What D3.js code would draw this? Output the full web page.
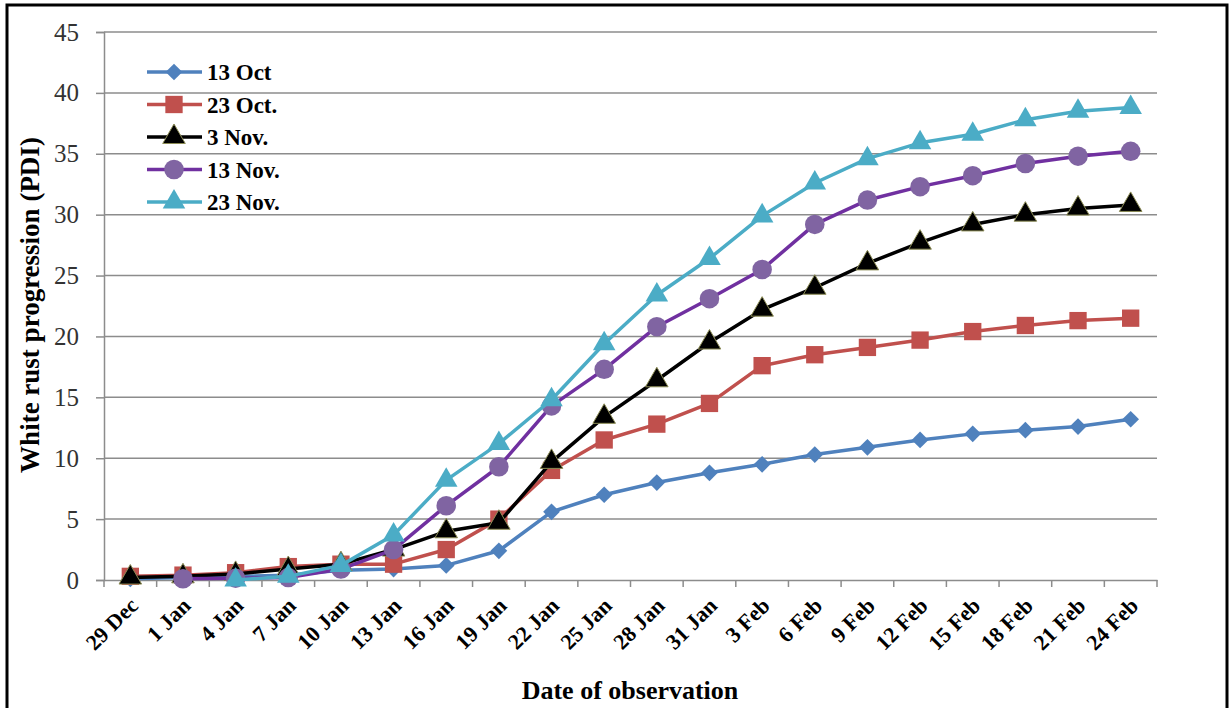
<!DOCTYPE html>
<html>
<head>
<meta charset="utf-8">
<script src="https://cdn.jsdelivr.net/npm/d3@7"></script>
<style>
  body { margin: 0; background: #fff; }
  text { font-family: "Liberation Serif", "DejaVu Serif", serif; }
</style>
</head>
<body>
<script>
// categories and series
const dates = ["29 Dec", "1 Jan", "4 Jan", "7 Jan", "10 Jan", "13 Jan", "16 Jan", "19 Jan", "22 Jan", "25 Jan",
  "28 Jan", "31 Jan", "3 Feb", "6 Feb", "9 Feb", "12 Feb", "15 Feb", "18 Feb", "21 Feb", "24 Feb"];
const oct13 = [0.1, 0.2, 0.3, 0.4, 0.8, 0.9, 1.2, 2.4, 5.6, 7.0, 8.0, 8.8, 9.5, 10.3, 10.9, 11.5, 12.0, 12.3, 12.6, 13.2];
const oct23 = [0.3, 0.4, 0.6, 1.1, 1.3, 1.3, 2.5, 5.0, 9.0, 11.5, 12.8, 14.5, 17.6, 18.5, 19.1, 19.7, 20.4, 20.9, 21.3, 21.5];
const nov3 = [0.2, 0.3, 0.5, 0.9, 1.3, 2.5, 4.0, 4.7, 9.7, 13.4, 16.4, 19.5, 22.2, 24.0, 26.0, 27.7, 29.2, 30.0, 30.5, 30.8];
const nov13 = [null, 0.1, 0.15, 0.2, 0.9, 2.5, 6.1, 9.3, 14.3, 17.3, 20.8, 23.1, 25.5, 29.2, 31.2, 32.3, 33.2, 34.2, 34.8, 35.2];
const nov23 = [null, null, 0.0, 0.3, 1.2, 3.7, 8.2, 11.2, 14.8, 19.4, 23.4, 26.4, 29.9, 32.6, 34.6, 35.9, 36.6, 37.8, 38.5, 38.8];
const yTicks = [0, 5, 10, 15, 20, 25, 30, 35, 40, 45];

const series = [
  { name: "13 Oct", values: oct13, line: "#4F81BD", fill: "#4F81BD", stroke: "none", shape: "diamond" },
  { name: "23 Oct.", values: oct23, line: "#C0504D", fill: "#C0504D", stroke: "none", shape: "square" },
  { name: "3 Nov.", values: nov3, line: "#000000", fill: "#000000", stroke: "#8c8c55", shape: "triangle" },
  { name: "13 Nov.", values: nov13, line: "#7030A0", fill: "#8064A2", stroke: "none", shape: "circle" },
  { name: "23 Nov.", values: nov23, line: "#4BACC6", fill: "#4BACC6", stroke: "none", shape: "triangle" }
];

const width = 1231, height = 708;
const plotL = 104, plotR = 1157, plotT = 32, plotB = 580;

const svg = d3.select("body").append("svg")
    .attr("width", width)
    .attr("height", height);

svg.append("rect").attr("width", width).attr("height", height).attr("fill", "#fff");
svg.append("rect")
    .attr("x", 7).attr("y", 5).attr("width", 1220).attr("height", 712)
    .attr("fill", "none").attr("stroke", "#000").attr("stroke-width", 3);

const x = d3.scaleBand().domain(dates).range([plotL, plotR]);
const y = d3.scaleLinear().domain([0, 45]).range([plotB, plotT]);

// gridlines
svg.append("g")
  .selectAll("line")
  .data(yTicks.filter(d => d > 0))
  .enter()
  .append("line")
    .attr("x1", plotL).attr("x2", plotR)
    .attr("y1", d => y(d)).attr("y2", d => y(d))
    .attr("stroke", "#8c8c8c").attr("stroke-width", 1.5);

// y axis
const yAxis = svg.append("g")
    .attr("transform", `translate(${plotL},0)`)
    .call(d3.axisLeft(y).tickValues(yTicks).tickSize(8).tickPadding(17));
yAxis.select(".domain").attr("stroke", "#8c8c8c").attr("stroke-width", 1.5);
yAxis.selectAll(".tick line").attr("stroke", "#8c8c8c").attr("stroke-width", 1.5);
yAxis.selectAll("text")
    .attr("font-family", "Liberation Serif")
    .attr("font-size", 25)
    .attr("fill", "#333");

// x axis: labels at category centres, ticks between categories
const xAxis = svg.append("g")
    .attr("transform", `translate(0,${plotB})`)
    .call(d3.axisBottom(x).tickSize(0).tickSizeOuter(0));
xAxis.select(".domain").attr("stroke", "#8c8c8c").attr("stroke-width", 1.5);
xAxis.selectAll("text")
    .attr("x", 0).attr("y", 0).attr("dy", 0)
    .attr("transform", "translate(9,27) rotate(-45)")
    .attr("text-anchor", "end")
    .attr("font-family", "Liberation Serif")
    .attr("font-weight", "bold")
    .attr("font-size", 22)
    .attr("fill", "#000");

xAxis.selectAll(".edge")
  .data(dates.map(d => x(d)).concat([plotR]))
  .enter()
  .append("line")
    .attr("class", "edge")
    .attr("x1", d => d).attr("x2", d => d)
    .attr("y1", 0).attr("y2", 7)
    .attr("stroke", "#8c8c8c").attr("stroke-width", 1.5);

// axis titles
svg.append("text")
    .attr("x", 630).attr("y", 699)
    .attr("text-anchor", "middle")
    .attr("font-weight", "bold")
    .attr("font-size", 26)
    .text("Date of observation");

svg.append("text")
    .attr("transform", "translate(39,305) rotate(-90)")
    .attr("text-anchor", "middle")
    .attr("font-weight", "bold")
    .attr("font-size", 27)
    .text("White rust progression (PDI)");

const symbolFor = {
  diamond: d3.symbol().type(d3.symbolSquare).size(140),
  square: d3.symbol().type(d3.symbolSquare).size(300),
  triangle: d3.symbol().type(d3.symbolTriangle).size(220),
  circle: d3.symbol().type(d3.symbolCircle).size(300)
};
const rotFor = s => s.shape === "diamond" ? " rotate(45)" : "";

const line = d3.line()
    .defined(d => d.v != null)
    .x(d => x(d.date) + x.bandwidth() / 2)
    .y(d => y(d.v));

series.forEach(s => {
  const pts = dates.map((date, i) => ({ date, v: s.values[i] }));
  const g = svg.append("g");
  g.append("path")
      .datum(pts)
      .attr("d", line)
      .attr("fill", "none")
      .attr("stroke", s.line)
      .attr("stroke-width", 3.5)
      .attr("stroke-linejoin", "round");
  g.selectAll("path.mk")
    .data(pts.filter(d => d.v != null))
    .enter()
    .append("path")
      .attr("class", "mk")
      .attr("d", symbolFor[s.shape])
      .attr("transform", d => `translate(${x(d.date) + x.bandwidth() / 2},${y(d.v)})` + rotFor(s))
      .attr("fill", s.fill)
      .attr("stroke", s.stroke)
      .attr("stroke-width", 1);
});

// legend
const legend = svg.append("g");
series.forEach((s, i) => {
  const ly = 72 + i * 32.5;
  const g = legend.append("g").attr("transform", `translate(0,${ly})`);
  g.append("line")
      .attr("x1", 147).attr("x2", 202)
      .attr("stroke", s.line).attr("stroke-width", 3.5);
  g.append("path")
      .attr("d", symbolFor[s.shape])
      .attr("transform", "translate(174,0)" + rotFor(s))
      .attr("fill", s.fill)
      .attr("stroke", s.stroke);
  g.append("text")
      .attr("x", 207).attr("y", 8)
      .attr("font-weight", "bold")
      .attr("font-size", 23)
      .text(s.name);
});
</script>
</body>
</html>
